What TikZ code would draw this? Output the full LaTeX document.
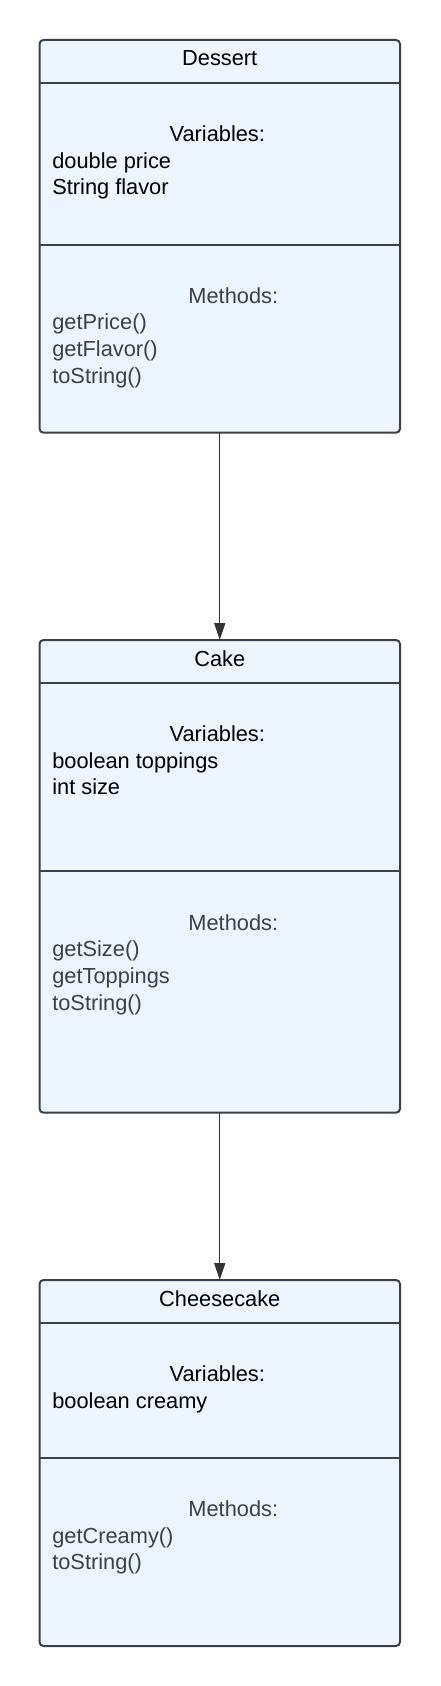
\documentclass[tikz,border=0pt]{standalone}
\usepackage{fontspec}
\setmainfont{Liberation Sans}
\usetikzlibrary{arrows.meta}
\definecolor{boxfill}{HTML}{EDF5FF}
\definecolor{boxline}{HTML}{3A414A}
\definecolor{methcol}{HTML}{3A414A}
\definecolor{arrcol}{HTML}{333333}
\tikzset{
  classbox/.style={draw=boxline, fill=boxfill, line width=2pt, rounded corners=4pt, rectangle, outer sep=0pt, inner sep=0pt, minimum width=360.5pt, anchor=north west},
  divider/.style={draw=boxline, line width=2pt},
  txt/.style={inner sep=0pt, outer sep=0pt, anchor=base, font=\fontsize{21.8}{26.7}\selectfont},
  vtxt/.style={txt, text=black},
  mtxt/.style={txt, text=methcol},
  ltxt/.style={inner sep=0pt, outer sep=0pt, anchor=base west, align=left, font=\fontsize{21.8}{26.7}\selectfont},
  inherit/.style={draw=arrcol, line width=1.3pt, -{Triangle[length=17pt,width=11pt]}}
}
\begin{document}
\begin{tikzpicture}[x=1pt,y=-1pt]
\useasboundingbox (0,0) rectangle (440,1686);
% Dessert
\node[classbox, minimum height=392.7pt] (dessert) at (39.5,40) {};
\draw[divider] (39.5,82.7) -- (400,82.7);
\draw[divider] (39.5,245) -- (400,245);
\node[vtxt] (dessertT) at (219.75,66) {Dessert};
\node[vtxt] (dessertV) at (217.3,141) {Variables:};
\node[vtxt, ltxt] (dessertVL) at (52.3,194.7) {double price\\String flavor};
\node[mtxt] (dessertM) at (233.3,303.3) {Methods:};
\node[mtxt, ltxt] (dessertML) at (52.3,383.3) {getPrice()\\getFlavor()\\toString()};
% Cake
\node[classbox, minimum height=472.7pt] (cake) at (39.5,640) {};
\draw[divider] (39.5,682.7) -- (400,682.7);
\draw[divider] (39.5,870.7) -- (400,870.7);
\node[vtxt] (cakeT) at (219.75,666) {Cake};
\node[vtxt] (cakeV) at (217.3,741) {Variables:};
\node[vtxt, ltxt] (cakeVL) at (52.3,794.7) {boolean toppings\\int size};
\node[mtxt] (cakeM) at (233.3,930) {Methods:};
\node[mtxt, ltxt] (cakeML) at (52.3,1010) {getSize()\\getToppings\\toString()};
% Cheesecake
\node[classbox, minimum height=366pt] (cheese) at (39.5,1280) {};
\draw[divider] (39.5,1322.7) -- (400,1322.7);
\draw[divider] (39.5,1457.7) -- (400,1457.7);
\node[vtxt] (cheeseT) at (219.75,1306) {Cheesecake};
\node[vtxt] (cheeseV) at (217.3,1381) {Variables:};
\node[vtxt, ltxt] (cheeseVL) at (52.3,1408) {boolean creamy};
\node[mtxt] (cheeseM) at (233.3,1516) {Methods:};
\node[mtxt, ltxt] (cheeseML) at (52.3,1569.7) {getCreamy()\\toString()};
% connectors
\draw[inherit] (dessert.south) -- (cake.north);
\draw[inherit] (cake.south) -- (cheese.north);
\end{tikzpicture}
\end{document}
